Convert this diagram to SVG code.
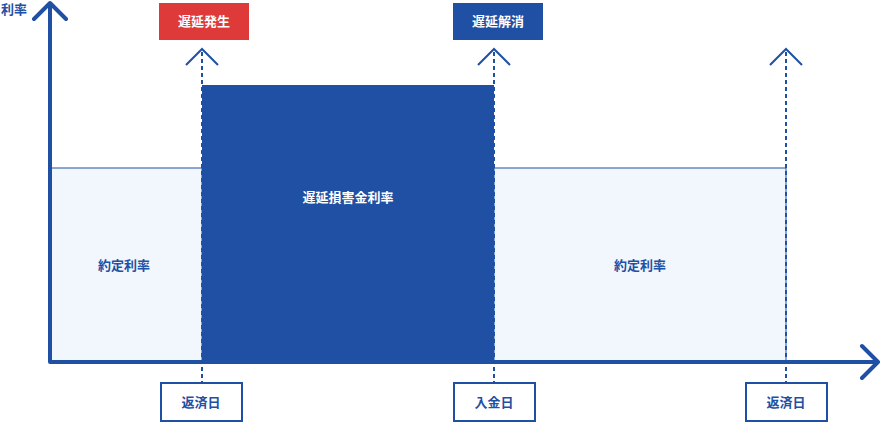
<svg xmlns="http://www.w3.org/2000/svg" width="882" height="423" viewBox="0 0 882 423">
<style>
text{font-family:"Noto Sans CJK JP","Noto Sans",sans-serif;font-weight:bold;font-size:13px;text-anchor:middle}
.ax{stroke:#1f50a3;stroke-width:4;fill:none;stroke-linecap:round;stroke-linejoin:round}
.ch{stroke:#1f50a3;stroke-width:2;fill:none}
.dash{stroke:#1f50a3;stroke-width:2;stroke-dasharray:4 3;fill:none}
.lb{fill:#fff;stroke:#1f50a3;stroke-width:2}
</style>
<g id="areas">
<rect x="51" y="168" width="151" height="193" fill="#f1f7fd" stroke="#1f50a3" stroke-width="1"/>
<rect x="494" y="168" width="292" height="193" fill="#f1f7fd" stroke="#1f50a3" stroke-width="1"/>
<rect x="202" y="85" width="292" height="276" fill="#1f50a3"/>
<text x="124" y="270" fill="#1f50a3">約定利率</text>
<text x="640" y="270" fill="#1f50a3">約定利率</text>
<text x="348" y="202" fill="#fff">遅延損害金利率</text>
</g>
<g id="connectors">
<path class="ax" d="M50,362V3M34,19L50,3L66,19M50,362H878M862,346L878,362L862,378"/>
<path class="dash" d="M202,52V383M494,52V383M786,52V383"/>
<path class="ch" d="M186,65L202,49L218,65M478,65L494,49L510,65M770,65L786,49L802,65"/>
</g>
<text x="14" y="14" fill="#1f50a3">利率</text>
<g id="top1"><rect x="159" y="3" width="90" height="37" fill="#de3a3a"/><text x="204" y="26" fill="#fff">遅延発生</text></g>
<g id="top2"><rect x="453" y="3" width="90" height="37" fill="#1f50a3"/><text x="498" y="26" fill="#fff">遅延解消</text></g>
<g id="b1"><rect class="lb" x="161" y="383" width="81" height="38"/><text x="201" y="407" fill="#1f50a3">返済日</text></g>
<g id="b2"><rect class="lb" x="454" y="383" width="81" height="38"/><text x="494" y="407" fill="#1f50a3">入金日</text></g>
<g id="b3"><rect class="lb" x="746" y="383" width="81" height="38"/><text x="786" y="407" fill="#1f50a3">返済日</text></g>
</svg>
